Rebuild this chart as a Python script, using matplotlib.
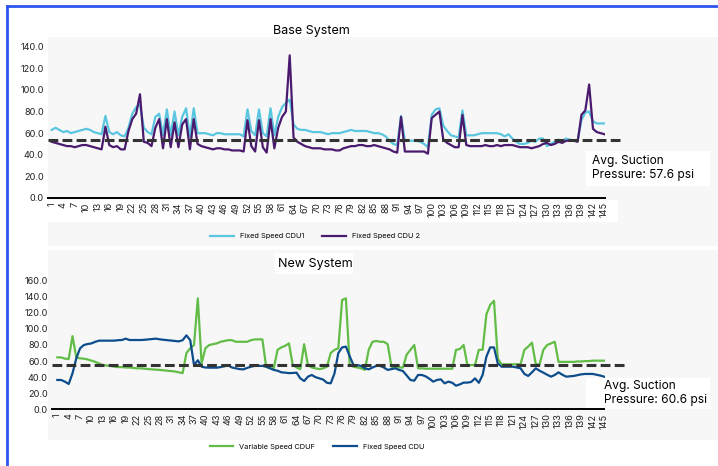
import numpy as np
import matplotlib
matplotlib.use("Agg")
import matplotlib.pyplot as plt
from matplotlib.patches import Rectangle
from matplotlib.lines import Line2D

plt.rcParams["font.family"] = ["Inter", "DejaVu Sans"]

# ---- data -------------------------------------------------------------
samples = np.arange(1, 146)

cdu1 = [63, 65, 63, 61, 62, 60, 61, 62, 63, 64,
        63, 61, 60, 59, 76, 61, 59, 61, 58, 57,
        65, 78, 84, 86, 65, 61, 59, 75, 78, 58,
        82, 58, 80, 58, 75, 83, 57, 83, 60, 60,
        60, 59, 58, 60, 60, 59, 59, 59, 59, 59,
        57, 82, 62, 58, 82, 60, 57, 83, 58, 75,
        84, 88, 91, 68, 64, 63, 63, 62, 61, 61,
        61, 60, 59, 60, 60, 60, 61, 62, 63, 62,
        62, 62, 62, 61, 60, 60, 59, 57, 53, 50,
        49, 76, 53, 53, 53, 53, 52, 50, 47, 77,
        82, 83, 67, 62, 58, 57, 56, 81, 58, 58,
        58, 59, 60, 60, 60, 60, 60, 59, 57, 59,
        55, 52, 50, 50, 51, 53, 52, 55, 55, 48,
        50, 52, 54, 53, 55, 54, 53, 53, 72, 79,
        80, 71, 69, 69, 69]

cdu2 = [52, 51, 50, 49, 48, 48, 47, 48, 49, 49,
        48, 47, 46, 45, 66, 49, 47, 48, 45, 45,
        62, 73, 78, 96, 52, 51, 48, 65, 73, 46,
        73, 47, 70, 47, 68, 73, 45, 73, 50, 48,
        47, 46, 45, 46, 46, 45, 45, 44, 44, 44,
        43, 72, 48, 43, 72, 47, 42, 73, 46, 65,
        75, 80, 132, 56, 52, 50, 48, 47, 46, 46,
        46, 45, 45, 45, 44, 44, 46, 47, 48, 48,
        49, 49, 48, 48, 49, 48, 47, 46, 45, 43,
        42, 75, 43, 43, 43, 43, 43, 43, 41, 74,
        77, 80, 54, 51, 49, 47, 47, 77, 49, 48,
        48, 48, 48, 49, 48, 48, 49, 48, 49, 49,
        49, 48, 47, 47, 47, 46, 47, 48, 50, 51,
        49, 50, 52, 51, 53, 53, 53, 52, 77, 81,
        105, 64, 61, 60, 59]

cduf_var = [64.7, 64.5, 63, 62.6, 91, 64.7, 63.4, 63, 62, 60.5,
            59, 57, 55, 54.5, 54, 53, 52.5, 52.5, 52, 52,
            51.5, 51, 51, 50.5, 50, 49.7, 49.5, 49, 48.5, 48,
            47.5, 47, 46, 45, 70, 76, 80, 138, 57, 76,
            80, 81, 82, 84, 85, 86, 86, 84, 84, 84,
            84, 86, 87, 87, 87, 53, 51, 51, 74, 77,
            79, 82, 55, 52, 50, 81, 55, 52, 51, 50,
            51, 53, 70, 74, 76, 136, 138, 55, 53, 52,
            51, 49, 74, 84, 85, 84, 84, 81, 53, 52,
            52, 52, 68, 74, 80, 51, 51, 50.5, 50.5, 50.5,
            50.5, 50.5, 50.5, 50.5, 50.5, 74, 75, 80, 55, 55,
            55, 74, 74, 118, 130, 135, 63, 56, 56, 56,
            56, 56, 56, 74, 78, 83, 56, 56, 74, 80,
            82, 84, 59, 59, 59, 59, 59, 59.5, 59.5, 60,
            60, 60.5, 60.5, 60.5, 60.5]

cdu_fixed = [36.5, 36.5, 34.4, 31.5, 44.8, 63.4, 75.9, 80, 81.2, 82,
             84, 85.4, 85.4, 85.4, 85.4, 85.4, 86, 86.2, 87.9, 86.2,
             86.2, 86.2, 86.2, 86.5, 87, 87.5, 87.9, 87, 86.5, 86,
             85.5, 85, 84.5, 86, 92, 86, 55, 61, 53, 52,
             51.8, 51.8, 51.8, 52.5, 53.5, 54.7, 52, 51, 50, 49.7,
             51.5, 53, 54, 54, 54, 53, 51, 49, 48, 46,
             45.6, 45, 45.2, 45.6, 38.5, 35.2, 40.6, 42.7, 40, 38.5,
             37, 33, 32.3, 44.8, 70, 77, 78, 66, 55, 55,
             54, 51, 49.7, 52, 54, 54, 52, 49, 50, 51,
             49, 47.7, 42, 36.5, 35.6, 42.7, 42.7, 41, 38, 34.4,
             36.5, 37.3, 32.3, 34.4, 33, 29.4, 31, 33.2, 33.2, 34,
             38.5, 33, 42.7, 65.5, 77, 77, 57, 53, 53, 53,
             53, 52, 51, 44, 41.5, 46, 51, 48, 45.6, 43,
             40.6, 42.7, 46, 43, 40.6, 41, 41.5, 42.5, 43.5, 44,
             44, 44, 43, 42, 40.6]

avg_line_base = 53.5
avg_line_new = 55.5
avg_label_base = "Avg. Suction\nPressure: 57.6 psi"
avg_label_new = "Avg. Suction\nPressure: 60.6 psi"

# ---- figure -----------------------------------------------------------
W, H = 718, 466
fig = plt.figure(figsize=(W / 100, H / 100), dpi=100)
fig.patch.set_facecolor("white")


def rect_px(x0, y0, x1, y1, color, z=-2):
    fig.patches.append(Rectangle((x0 / W, 1 - y1 / H), (x1 - x0) / W, (y1 - y0) / H,
                                 transform=fig.transFigure, facecolor=color,
                                 edgecolor="none", zorder=z))


def axes_px(l, t, r, b):
    ax = fig.add_axes([l / W, 1 - b / H, (r - l) / W, (b - t) / H])
    ax.set_zorder(1)
    return ax


# light grey panels behind each chart
rect_px(48, 37, 718, 246, "#F7F7F7")
rect_px(48, 250, 718, 440, "#F7F7F7")
rect_px(48, 200, 618, 222, "white", z=-1)
rect_px(275, 253, 353, 274, "white", z=-1)
rect_px(586, 151, 710, 186, "white", z=-1)
rect_px(586, 378, 710, 409, "white", z=-1)

# blue frame (left and top)
fig.lines.append(Line2D([7 / W, 7 / W], [0, 1 - 6 / H], transform=fig.transFigure,
                        color="#2D55F0", lw=2, zorder=3))
fig.lines.append(Line2D([7 / W, 1], [1 - 6 / H, 1 - 6 / H], transform=fig.transFigure,
                        color="#2D55F0", lw=2, zorder=3))


def style_axis(ax, ymax, xlim):
    ax.set_facecolor("none")
    ax.set_xlim(*xlim)
    ax.set_ylim(0, ymax)
    for s in ["top", "right", "left"]:
        ax.spines[s].set_visible(False)
    ax.spines["bottom"].set_color("black")
    ax.spines["bottom"].set_linewidth(1.4)
    ax.set_yticks(np.arange(0, ymax + 1, 20))
    ax.set_yticklabels([f"{v:.1f}" for v in np.arange(0, ymax + 1, 20)])
    ax.set_xticks(samples[::3])
    ax.set_xticklabels([str(v) for v in samples[::3]], rotation=90)
    ax.tick_params(axis="both", length=0, labelsize=6.6, colors="#222222")
    ax.tick_params(axis="y", pad=3)
    ax.tick_params(axis="x", pad=3)


# ---- Base System --------------------------------------------------------
ax1 = axes_px(48, 46.7, 605, 198)
style_axis(ax1, 140, (0.04, 145.13))
ax1.plot(samples, cdu1, color="#5BC6E0", lw=1.6, label="Fixed Speed CDU1", zorder=3)
ax1.plot(samples, cdu2, color="#4A1A6E", lw=1.6, label="Fixed Speed CDU 2", zorder=4)
ax1.plot([0.04, 149.3], [avg_line_base, avg_line_base], color="#333333", lw=2.2,
         dashes=(3.2, 1.4), clip_on=False, zorder=5)
fig.text(311 / W, 1 - 31 / H, "Base System", ha="center", va="center", fontsize=9)
fig.text(592 / W, 1 - 168 / H, avg_label_base, ha="left", va="center", fontsize=8.6,
         linespacing=1.15, zorder=6)
fig.legend(handles=ax1.get_lines()[:2], loc="center", ncol=2, frameon=False,
           fontsize=5.3, handlelength=3.2, columnspacing=2.5,
           bbox_to_anchor=(315 / W, 1 - 236 / H))

# ---- New System -----------------------------------------------------------
ax2 = axes_px(52, 280.7, 604.5, 409.3)
style_axis(ax2, 160, (-0.4, 145.1))
ax2.plot(samples, cduf_var, color="#62BD47", lw=1.6, label="Variable Speed CDUF", zorder=3)
ax2.plot(samples, cdu_fixed, color="#0D4D8C", lw=1.6, label="Fixed Speed CDU", zorder=4)
ax2.plot([-0.4, 150.3], [avg_line_new, avg_line_new], color="#333333", lw=2.2,
         dashes=(3.2, 1.4), clip_on=False, zorder=5)
fig.text(315 / W, 1 - 264 / H, "New System", ha="center", va="center", fontsize=9)
fig.text(604 / W, 1 - 393 / H, avg_label_new, ha="left", va="center", fontsize=8.6,
         linespacing=1.15, zorder=6)
fig.legend(handles=ax2.get_lines()[:2], loc="center", ncol=2, frameon=False,
           fontsize=5.3, handlelength=3.2, columnspacing=2.5,
           bbox_to_anchor=(317 / W, 1 - 447 / H))

fig.savefig("out.png", dpi=100)
